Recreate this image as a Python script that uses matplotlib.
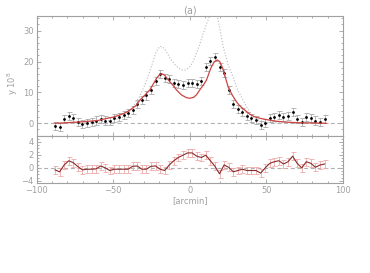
import numpy as np
import matplotlib
matplotlib.use('Agg')
import matplotlib.pyplot as plt
from matplotlib.ticker import MultipleLocator

# sample positions [arcmin]
x = np.linspace(-88, 88, 60)

# top panel: measured profile (y 10^8)
y_obs = [-0.9, -1.3, 1.5, 2.3, 1.8, 0.5, -0.2, 0.2, 0.4, 0.9,
         1.3, 0.9, 0.6, 1.6, 2.1, 2.6, 3.4, 4.4, 6.3, 7.6,
         9.0, 10.8, 13.8, 15.9, 14.7, 14.2, 13.0, 12.6, 12.5, 13.0,
         13.2, 12.8, 13.8, 18.3, 20.2, 21.5, 18.3, 16.4, 10.8, 6.3,
         4.7, 3.6, 2.5, 1.8, 1.0, -0.6, 0.2, 1.6, 2.1, 2.6,
         2.1, 2.3, 3.6, 1.3, 0.5, 2.1, 1.6, 0.9, 0.5, 1.3]
y_err = 1.3

# model curve (red)
mod_x = [-88, -80, -70, -60, -54, -50, -45.6, -42, -39, -35, -32.6, -29, -26,
         -23.5, -21.7, -20, -18.5, -16.5, -14, -11, -8.7, -5.5, -2.2, 0,
         2.5, 4.5, 6.5, 9, 10.9, 12.5, 14.1, 16, 17.8, 19.5, 21.5, 23, 25,
         27.5, 30.4, 32.5, 35.8, 39, 42.3, 46, 51, 56, 62, 70, 80, 89]
mod_y = [0.0, 0.2, 0.5, 0.9, 1.6, 2.0, 2.7, 3.4, 4.3, 5.8, 7.5, 9.3, 10.9,
         13.0, 14.6, 15.6, 16.1, 15.6, 14.0, 12.3, 10.8, 9.2, 8.3, 8.1,
         8.4, 9.3, 10.8, 12.5, 14.0, 16.2, 18.3, 19.9, 20.5, 20.0, 17.8, 15.2, 11.8,
         9.3, 7.0, 5.7, 4.3, 3.0, 2.1, 1.6, 1.1, 0.7, 0.4, 0.2, 0.1, 0.0]

# dotted curve (grey)
dot_x = [-88, -70, -60, -50, -45, -42, -39.5, -37, -35, -33, -30.5, -28, -26, -24,
         -22.5, -21, -19.5, -18, -16, -13, -11, -9, -7, -5, -3.5, -2, 0,
         2, 4.3, 6.5, 8.7, 11, 13, 15, 16.5, 17.4, 19.5, 21.7, 25, 28.2,
         31, 34.8, 38, 41.3, 45, 50, 60, 70, 88]
dot_y = [0.0, 0.1, 0.3, 1.0, 1.7, 2.5, 3.8, 5.5, 7.0, 8.5, 11.2, 14.0, 17.0, 20.0,
         22.5, 24.0, 24.9, 24.8, 23.8, 21.2, 19.8, 18.6, 17.8, 17.3, 17.2, 17.4, 18.3,
         19.8, 22.6, 25.6, 29.0, 32.3, 34.7, 36.6, 37.0, 36.0, 31.0, 25.0, 19.0, 15.0,
         11.0, 7.5, 4.5, 2.1, 1.0, 0.3, 0.1, 0.0, 0.0]

# lower panel: residuals
res = [-0.3, -0.6, 0.45, 1.1, 0.8, 0.2, -0.3, -0.2, -0.2, -0.15,
       0.3, 0.0, -0.4, -0.2, -0.2, -0.2, -0.2, 0.25, 0.3, -0.2,
       -0.2, 0.25, 0.3, -0.2, -0.4, 0.45, 1.1, 1.6, 1.95, 2.3,
       2.3, 1.8, 1.6, 1.95, 1.1, 0.25, -0.9, 0.45, 0.1, -0.6,
       -0.4, -0.2, -0.4, -0.4, -0.4, -0.8, 0.0, 0.7, 0.95, 1.1,
       0.6, 0.95, 1.8, 0.7, 0.0, 0.95, 0.7, 0.1, 0.45, 0.6]
res_err = 0.6

grey = '#a0a0a0'
plt.rcParams['font.size'] = 6
plt.rcParams['font.family'] = 'DejaVu Sans'

fig = plt.figure(figsize=(3.7, 2.73), dpi=100)
ax1 = fig.add_axes([0.099, 0.502, 0.828, 0.439])
ax2 = fig.add_axes([0.099, 0.330, 0.828, 0.172])


def style(ax):
    for s in ax.spines.values():
        s.set_color(grey)
        s.set_linewidth(0.8)
    ax.tick_params(which='both', direction='in', top=True, right=True,
                   colors=grey, labelcolor=grey, width=0.6, labelsize=6, pad=2)
    ax.tick_params(which='major', length=3)
    ax.tick_params(which='minor', length=1.5)
    ax.xaxis.set_major_locator(MultipleLocator(50))
    ax.xaxis.set_minor_locator(MultipleLocator(10))
    ax.set_xlim(-100, 100)


# top panel
style(ax1)
ax1.axhline(0, color='#b0b0b0', ls='--', lw=0.8, dashes=(3.5, 2.5))
ax1.plot(dot_x, dot_y, color='#b8b8b8', ls=':', lw=0.8)
ax1.errorbar(x, y_obs, yerr=y_err, fmt='none', ecolor='#aaaaaa',
             elinewidth=0.6, capsize=1.8, capthick=0.6)
ax1.plot(x, y_obs, 'o', color='black', ms=1.0)
ax1.plot(mod_x, mod_y, color='#cc4444', lw=0.9)
ax1.set_ylim(-4.1, 34.7)
ax1.yaxis.set_major_locator(MultipleLocator(10))
ax1.yaxis.set_minor_locator(MultipleLocator(2))
ax1.tick_params(labelbottom=False)
ax1.set_title('(a)', color=grey, fontsize=7, pad=2)

# lower panel
style(ax2)
ax2.axhline(0, color='#b0b0b0', ls='--', lw=0.8, dashes=(3.5, 2.5))
ax2.errorbar(x, res, yerr=res_err, fmt='none', ecolor='#eeaaaa',
             elinewidth=0.6, capsize=1.8, capthick=0.6)
ax2.plot(x, res, color='#8a2a2a', lw=0.8)
ax2.set_ylim(-2.3, 4.9)
ax2.set_yticks([-2, 0, 2, 4])
ax2.set_yticklabels(['\u22124', '0', '2', '4'])
ax2.yaxis.set_minor_locator(MultipleLocator(0.5))
ax2.set_xlabel('[arcmin]', color=grey, fontsize=6, labelpad=1)

fig.text(0.035, 1 - 83 / 273, 'y 10$^8$', color=grey, fontsize=6,
         rotation=90, ha='center', va='center')

fig.savefig('out.png', dpi=100)
